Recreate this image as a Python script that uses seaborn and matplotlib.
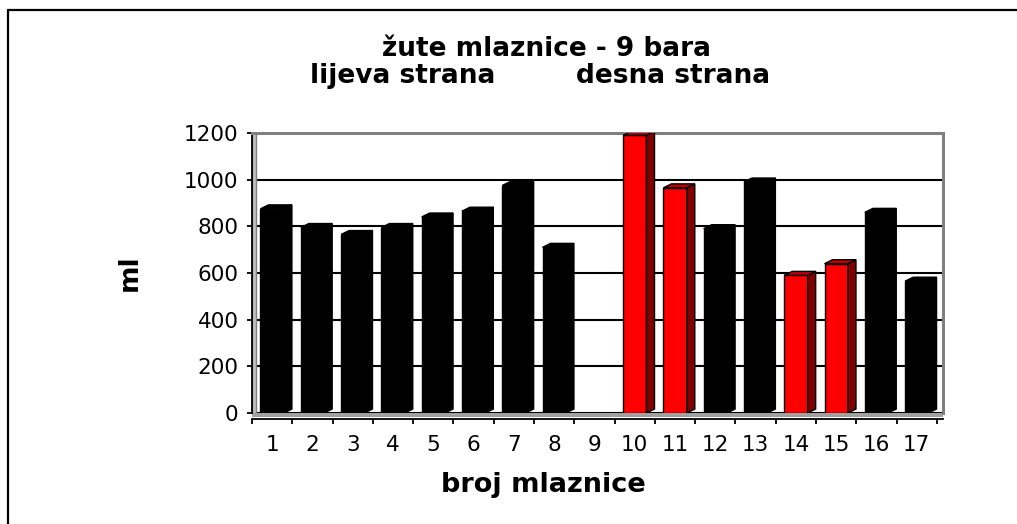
import matplotlib
matplotlib.use("Agg")
import matplotlib.pyplot as plt
from matplotlib.patches import Polygon, Rectangle
from matplotlib.lines import Line2D
import seaborn as sns
import pandas as pd

# ---- data ----
nozzles = [str(i) for i in range(1, 18)]
volumes_ml = [875, 795, 765, 795, 840, 865, 975, 710, 0, 1190, 965, 790, 990, 590, 640, 860, 565]
bar_colors = ["black"] * 9 + ["red", "red", "black", "black", "red", "red", "black", "black"]
y_ticks = [0, 200, 400, 600, 800, 1000, 1200]
title_line1 = "žute mlaznice - 9 bara"
title_left = "lijeva strana"
title_right = "desna strana"
x_label = "broj mlaznice"
y_label = "ml"

sns.set_theme(style="white")
plt.rcParams["font.family"] = ["DejaVu Sans"]
plt.rcParams["text.color"] = "black"
plt.rcParams["xtick.color"] = "black"
plt.rcParams["ytick.color"] = "black"
plt.rcParams["axes.labelcolor"] = "black"

W, H = 1017, 524
fig = plt.figure(figsize=(W / 100, H / 100), dpi=100)
ax = fig.add_axes([252 / W, 1 - 413 / H, (943 - 252) / W, (413 - 133) / H])

df = pd.DataFrame({"broj": nozzles, "ml": volumes_ml, "c": bar_colors})
palette = dict(zip(nozzles, bar_colors))
sns.barplot(data=df, x="broj", y="ml", hue="broj", palette=palette, legend=False,
            width=0.58, edgecolor="black", linewidth=1, saturation=1, ax=ax, zorder=3)

ax.set_ylim(0, 1200)
ax.set_xlim(-0.5, 16.65)

# 3D side/top faces derived from the bar patches
dx, dy = 0.2, 17
side_col = {"red": "#800000", "black": "black"}
top_col = {"red": "#C00000", "black": "black"}
for p, c in zip(ax.patches, bar_colors):
    x0, w, h = p.get_x(), p.get_width(), p.get_height()
    if h <= 0:
        continue
    side = Polygon([(x0 + w, 0), (x0 + w + dx, dy), (x0 + w + dx, h + dy), (x0 + w, h)],
                   closed=True, facecolor=side_col[c], edgecolor="black", lw=1, zorder=3)
    top = Polygon([(x0, h), (x0 + dx, h + dy), (x0 + w + dx, h + dy), (x0 + w, h)],
                  closed=True, facecolor=top_col[c], edgecolor="black", lw=1, zorder=3)
    ax.add_patch(side)
    ax.add_patch(top)

# grid and axes styling
ax.set_yticks(y_ticks)
ax.set_axisbelow(True)
ax.yaxis.grid(True, color="black", lw=1.5)
ax.xaxis.grid(False)
for s in ["top", "right"]:
    ax.spines[s].set_color("#808080")
    ax.spines[s].set_linewidth(2.2)
ax.spines["left"].set_color("black")
ax.spines["left"].set_linewidth(1.3)
ax.spines["bottom"].set_color("black")
ax.spines["bottom"].set_linewidth(1.3)
ax.spines["bottom"].set_position(("outward", 4))

# gray floor band and left wall
ax.add_patch(Rectangle((0, -4 / 280), 1, 4 / 280, transform=ax.transAxes,
                       facecolor="#a0a0a0", edgecolor="none", clip_on=False, zorder=1))
ax.add_patch(Rectangle((0, 0), 4 / 691, 1, transform=ax.transAxes,
                       facecolor="#c0c0c0", edgecolor="#808080", lw=1, zorder=1))

ax.set_xticks(range(len(nozzles)))
ax.set_xticklabels(nozzles)
ax.set_xticks([i - 0.5 for i in range(len(nozzles) + 1)], minor=True)
ax.tick_params(axis="x", which="major", length=0, pad=12, labelsize=15.5, colors="black")
ax.tick_params(axis="x", which="minor", length=3.6, width=1.3, direction="out", color="black", bottom=True)
ax.tick_params(axis="y", which="major", length=3.6, width=1.3, direction="out", pad=6,
               labelsize=15.5, colors="black", left=True)
ax.set_xlabel("")
ax.set_ylabel("")

# labels and titles
fig.text(543 / W, 1 - 491.7 / H, x_label, ha="center", va="baseline",
         fontsize=19.5, fontweight="bold", color="black")
fig.text(130 / W, 1 - 273 / H, y_label, ha="center", va="center", rotation=90,
         fontsize=19, fontweight="bold", color="black")
fig.text(546 / W, 1 - 55.7 / H, title_line1, ha="center", va="baseline",
         fontsize=19, fontweight="bold", color="black")
fig.text(403 / W, 1 - 83 / H, title_left, ha="center", va="baseline",
         fontsize=19, fontweight="bold", color="black")
fig.text(673 / W, 1 - 83 / H, title_right, ha="center", va="baseline",
         fontsize=19, fontweight="bold", color="black")

# outer frame (top and left edges)
fig.add_artist(Line2D([8 / W, 1], [1 - 10 / H, 1 - 10 / H], transform=fig.transFigure,
                      color="black", lw=1.6))
fig.add_artist(Line2D([8 / W, 8 / W], [0, 1 - 10 / H], transform=fig.transFigure,
                      color="black", lw=1.6))

fig.savefig("out.png", dpi=100)
